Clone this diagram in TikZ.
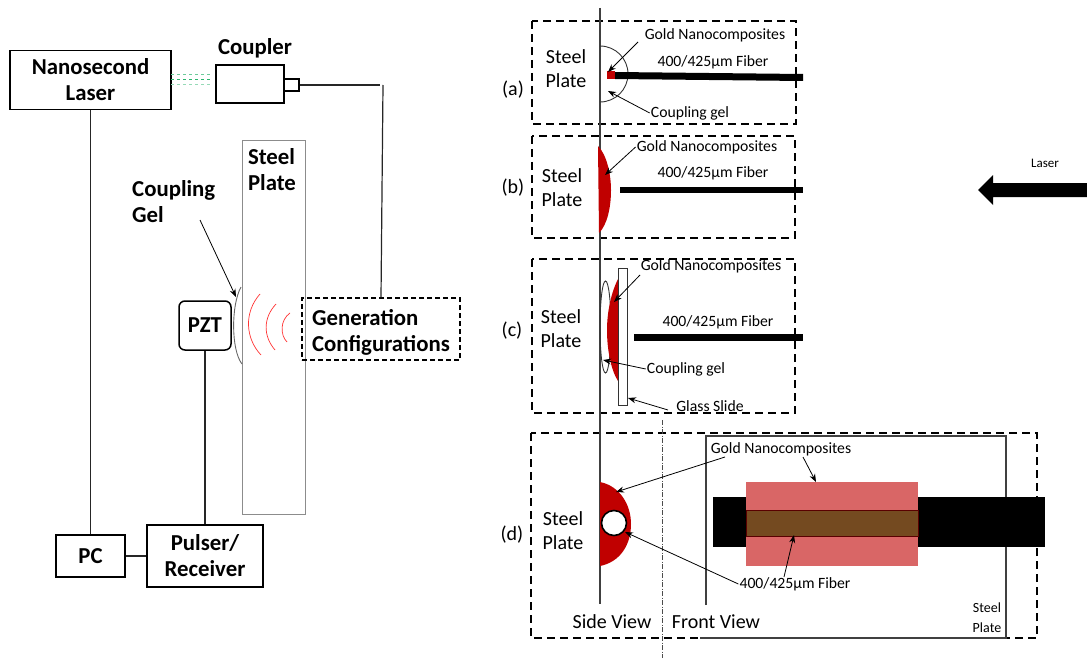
\documentclass[tikz,border=0pt]{standalone}
\usepackage{fontspec}
\setmainfont{Carlito}
\usetikzlibrary{arrows.meta}
\definecolor{goldred}{HTML}{C00000}
\definecolor{goldpink}{HTML}{D96666}
\definecolor{overlapbrown}{HTML}{744A20}
\definecolor{beamgreen}{HTML}{2DB56E}
\tikzset{
    boldtext/.style={font=\fontsize{22.8}{26}\selectfont\bfseries, align=center, inner sep=1pt},
    medtext/.style={font=\fontsize{20}{24}\selectfont, align=center, inner sep=1pt},
    smalltext/.style={font=\fontsize{15.7}{18}\selectfont, inner sep=1pt},
    solidbox/.style={draw, line width=1.3pt, inner sep=0pt},
    framebox/.style={draw, line width=1.6pt, dash pattern=on 8pt off 5pt},
    wire/.style={draw, line width=1.2pt, color=black!85},
    note/.style={-{Stealth[length=8pt,width=6pt]}, line width=0.8pt}
}
\begin{document}
\begin{tikzpicture}[x=1pt,y=-1pt]
    \useasboundingbox (0,0) rectangle (1087,658);

    % Left: laser and coupler
    \node[solidbox, minimum width=161pt, minimum height=59pt, boldtext] (laser) at (90.5,80) {Nanosecond\\Laser};
    \node[solidbox, minimum width=68pt, minimum height=38pt] (coupler) at (250,84) {};
    \node[solidbox, minimum width=15pt, minimum height=12pt] (port) at (291.5,85) {};
    \node[boldtext] (couplerlabel) at (255,48) {Coupler};

    % Laser beam
    \foreach \y/\c in {75/70,80/100,85/50} {
        \draw[beamgreen!\c!white, dashed, line width=1pt] (171,\y) -- (212,\y);
    }

    % Steel plate and gel
    \node[draw=black!45, line width=0.8pt, minimum width=63pt, minimum height=374pt] (plate) at (273.5,327) {};
    \node[boldtext, align=left] (platelabel) at (272,170) {Steel\\Plate};
    \node[boldtext, align=left, anchor=west] (gellabel) at (131,202) {Coupling\\Gel};
    \node[draw, rounded corners=6pt, line width=1.5pt, minimum width=52pt, minimum height=49pt, boldtext] (pzt) at (205,325.5) {\raisebox{-2.5pt}{PZT}};
    \draw[black!60, line width=0.9pt] (241,287) .. controls (231,305) and (231,350) .. (242,364);
    \coordinate (geltip) at (236,297);
    \draw[note] (200,220) -- (geltip);

    % Waves
    \draw[red!80, line width=0.7pt] (260,294) .. controls (244,312) and (245,338) .. (261,355);
    \draw[red!80, line width=0.7pt] (276,304) .. controls (263,318) and (263,336) .. (275,350);
    \draw[red!80, line width=0.7pt] (290,313) .. controls (280,320) and (280,335) .. (287,342);

    % Generation box
    \node[framebox, line width=1.2pt, dash pattern=on 5pt off 3pt, minimum width=158pt, minimum height=62pt] (gencfg) at (381,329) {};
    \node[boldtext, align=left] (gentext) at (381,332) {Generation\\Configurations};
    \coordinate (corner) at (383,85);
    \draw[wire] (port.east) -- (380,85);
    \draw[wire] (corner) -- (gencfg.north);

    % Pulser and PC
    \node[solidbox, minimum width=116pt, minimum height=62pt, boldtext] (pulser) at (205,556) {Pulser/\\Receiver};
    \node[solidbox, minimum width=69pt, minimum height=42pt, boldtext] (pc) at (90.5,556) {PC};
    \draw[wire] (laser.south) -- (pc.north);
    \draw[wire] (pzt.south) -- (pulser.north);
    \draw[wire] (pc.east) -- (pulser.west);

    % Dashed frames
    \draw[framebox] (532,21) rectangle (796,124);
    \draw[framebox] (532,136) rectangle (795,238);
    \draw[framebox] (532,259) rectangle (795,413);
    \draw[framebox] (531,433) rectangle (1037,638);

    % Steel line, side view
    \draw[black!75, line width=1.3pt] (600,8) -- (600,604);
    \draw[black!70, line width=0.6pt, dash pattern=on 5pt off 1.5pt on 1pt off 1.5pt] (662,420) -- (662,658);

    % (a)
    \node[medtext] (labela) at (513,90) {(a)};
    \node[medtext] (steela) at (566,69) {Steel\\Plate};
    \draw[black!80, line width=0.9pt] (600,46) arc[start angle=-90,end angle=90,radius=28] ;
    \fill[goldred] (607,71) rectangle (615,79);
    \fill[black] (615,72) -- (803,74) -- (803,81) -- (615,79) -- cycle;
    \node[smalltext] (golda) at (715,35) {Gold Nanocomposites};
    \node[smalltext] (fibera) at (713,62) {400/425µm Fiber};
    \node[smalltext] (gela) at (690,113) {Coupling gel};
    \coordinate (tipa) at (608,72);
    \coordinate (tipb) at (608,91);
    \draw[note] (638,42) -- (tipa);
    \draw[note] (gela.west) -- (tipb);

    % (b)
    \node[medtext] (labelb) at (513,188) {(b)};
    \node[medtext] (steelb) at (562,188) {Steel\\Plate};
    \fill[goldred] (598,146) .. controls (607,155) and (611,175) .. (611,190) .. controls (611,208) and (607,225) .. (599,233) -- cycle;
    \fill[black] (620,187) rectangle (803,193);
    \node[smalltext] (goldb) at (707,147) {Gold Nanocomposites};
    \node[smalltext] (fiberb) at (713,173) {400/425µm Fiber};
    \coordinate (tipc) at (605,175);
    \draw[note] (goldb.west) -- (tipc);

    % (c)
    \node[medtext] (labelc) at (512,331) {(c)};
    \node[medtext] (steelc) at (561,329) {Steel\\Plate};
    \draw[black!80, line width=0.9pt] (605.5,327) ellipse [x radius=5.5, y radius=46];
    \fill[goldred] (618,279) .. controls (610,295) and (607,315) .. (607,330) .. controls (607,350) and (611,370) .. (618,381) -- cycle;
    \node[draw=black!80, fill=white, line width=0.9pt, minimum width=9pt, minimum height=137pt, inner sep=0pt] (slide) at (622.5,336.5) {};
    \fill[black] (634,334) rectangle (803,340.5);
    \node[smalltext] (goldc) at (711,266) {Gold Nanocomposites};
    \node[smalltext] (fiberc) at (718,322) {400/425µm Fiber};
    \node[smalltext] (gelc) at (686,369) {Coupling gel};
    \node[smalltext] (glassc) at (710,406) {Glass Slide};
    \coordinate (tipd) at (614,302);
    \coordinate (tipe) at (603,360);
    \coordinate (tipf) at (628,398);
    \coordinate (tailf) at (668,410);
    \draw[note] (640,275) -- (tipd);
    \draw[note] (gelc.west) -- (tipe);
    \draw[note] (tailf) -- (tipf);

    % (d) side view
    \node[medtext] (labeld) at (512,535) {(d)};
    \node[medtext] (steeld) at (563,531) {Steel\\Plate};
    \fill[goldred] (600,482) .. controls (620,486) and (631,505) .. (631,524) .. controls (631,545) and (620,562) .. (600,566) -- cycle;
    \node[circle, draw, fill=white, line width=1.6pt, minimum size=25pt, inner sep=0pt] (core) at (614,523) {};
    \node[medtext] (sideview) at (612,622) {Side View};
    \node[medtext] (frontview) at (716,622) {Front View};

    % (d) front view
    \draw[black!75, line width=1.2pt] (706,605) -- (706,436) -- (1006,436) -- (1006,638) -- (700,638);
    \fill[black] (713,497) rectangle (1045,547);
    \node[fill=goldpink, minimum width=172pt, minimum height=84pt, inner sep=0pt] (goldfront) at (832,524) {};
    \node[fill=overlapbrown, draw=red!35!black, line width=0.6pt, minimum width=172pt, minimum height=26pt, inner sep=0pt] (corefront) at (832,523) {};
    \node[font=\fontsize{14}{20}\selectfont, align=center, inner sep=0pt] (steelfront) at (987,618) {Steel\\Plate};
    \node[smalltext] (goldd) at (781,449) {Gold Nanocomposites};
    \node[smalltext] (fiberd) at (795,584) {400/425µm Fiber};
    \coordinate (tipg) at (616,492);
    \coordinate (tiph) at (816,482);
    \coordinate (tipi) at (794,535);
    \coordinate (tipj) at (625,532);
    \draw[note] (725,457) -- (tipg);
    \draw[note] (803,457) -- (tiph);
    \draw[note] (784,577) -- (tipi);
    \draw[note] (fiberd.west) -- (tipj);

    % Laser arrow
    \node[font=\fontsize{13}{14}\selectfont, inner sep=1pt] (laserlabel) at (1045,163) {Laser};
    \fill[black] (1087,183) -- (993,183) -- (993,175) -- (978,190) -- (993,205) -- (993,197) -- (1087,197) -- cycle;

\end{tikzpicture}
\end{document}
